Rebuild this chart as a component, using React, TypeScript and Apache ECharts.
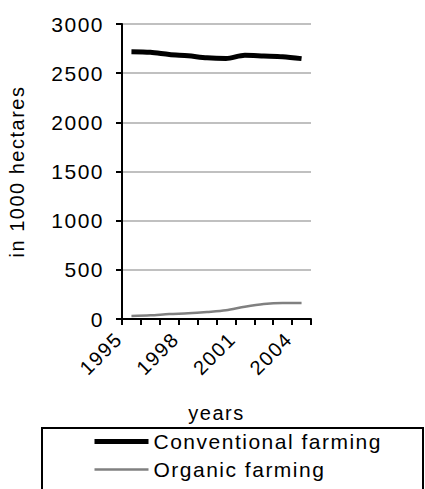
import React, { useEffect, useRef } from "react";
import * as echarts from "echarts";

const years = ["1995", "1996", "1997", "1998", "1999", "2000", "2001", "2002", "2003", "2004"];
const conventional = [2718, 2712, 2690, 2676, 2656, 2650, 2682, 2675, 2668, 2648];
const organic = [30, 37, 50, 58, 71, 88, 125, 153, 163, 163];
const yTicks = { min: 0, max: 3000, interval: 500 };
const seriesNames = ["Conventional farming", "Organic farming"];

const FONT = "'Liberation Sans', Arial, sans-serif";

export default function App() {
  const ref = useRef<HTMLDivElement>(null);
  useEffect(() => {
    document.body.style.margin = "0";
    const chart = echarts.init(ref.current!, null, { renderer: "svg" });
    chart.setOption({
      animation: false,
      textStyle: { fontFamily: FONT, color: "#000" },
      grid: { left: 122, top: 24, width: 189, height: 295, containLabel: false },
      xAxis: {
        type: "category",
        data: years,
        boundaryGap: true,
        name: "years",
        nameLocation: "middle",
        nameGap: 84,
        nameTextStyle: { fontSize: 20, color: "#000", fontFamily: FONT },
        axisLine: { lineStyle: { color: "#000", width: 2 } },
        axisTick: { show: true, interval: 0, length: 6, lineStyle: { color: "#000", width: 2 } },
        axisLabel: {
          interval: 2,
          rotate: 45,
          fontSize: 20,
          color: "#000",
          margin: 4,
          padding: [0, 18, 0, 0],
          fontFamily: FONT,
        },
        splitLine: { show: false },
      },
      yAxis: {
        type: "value",
        min: yTicks.min,
        max: yTicks.max,
        interval: yTicks.interval,
        name: "in 1000 hectares",
        nameLocation: "middle",
        nameGap: 95,
        nameRotate: 90,
        nameTextStyle: { fontSize: 20, color: "#000", fontFamily: FONT },
        axisLine: { show: true, lineStyle: { color: "#000", width: 2 } },
        axisTick: { show: true, length: 6, lineStyle: { color: "#000", width: 2 } },
        axisLabel: {
          fontSize: 21,
          color: "#000",
          margin: 18,
          fontFamily: FONT,
          formatter: (v: number) => String(v),
        },
        splitLine: { show: true, lineStyle: { color: "#c0c0c0", width: 2 } },
      },
      legend: {
        orient: "vertical",
        left: 92,
        top: 431,
        padding: 0,
        itemWidth: 54,
        itemHeight: 14,
        itemGap: 7,
        itemStyle: { opacity: 0 },
        textStyle: { fontSize: 21, lineHeight: 21, color: "#000", fontFamily: FONT },
        data: [
          { name: seriesNames[0], lineStyle: { width: 5, color: "#000" } },
          { name: seriesNames[1], lineStyle: { width: 2.5, color: "#808080" } },
        ],
      },
      graphic: [
        {
          type: "rect",
          shape: { x: 42, y: 428, width: 381, height: 80 },
          style: { fill: "none", stroke: "#000", lineWidth: 2 },
          silent: true,
        },
      ],
      series: [
        {
          name: seriesNames[0],
          type: "line",
          data: conventional,
          smooth: 0.3,
          symbol: "none",
          lineStyle: { color: "#000", width: 5 },
          itemStyle: { color: "#000" },
        },
        {
          name: seriesNames[1],
          type: "line",
          data: organic,
          smooth: 0.3,
          symbol: "none",
          lineStyle: { color: "#808080", width: 2.5 },
          itemStyle: { color: "#808080" },
        },
      ],
    });
    return () => chart.dispose();
  }, []);
  return (
    <>
      <style>{`#chart text { letter-spacing: 1.5px; }`}</style>
      <div id="chart" ref={ref} style={{ width: 425, height: 489 }} />
    </>
  );
}
